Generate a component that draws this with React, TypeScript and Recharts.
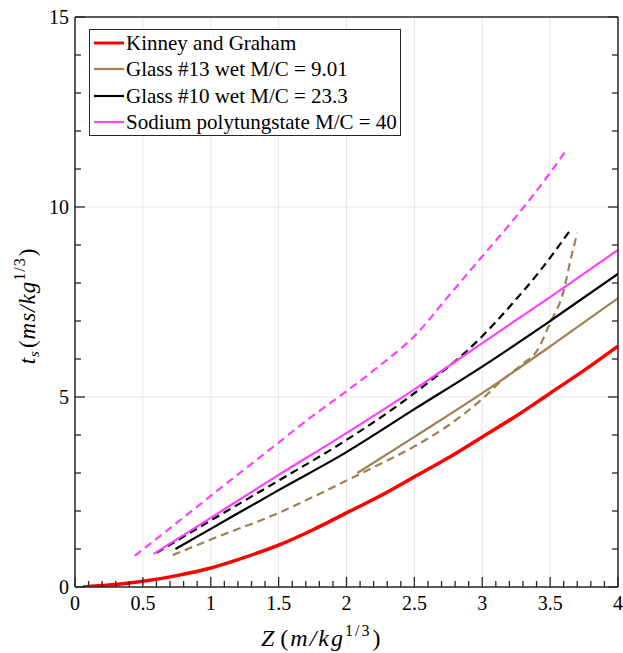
import { LineChart, Line, XAxis, YAxis, ReferenceLine, Legend } from 'recharts';

// Z (m/kg^1/3) vs t_s (ms/kg^1/3).
const kinneyZ = [0.06, 0.25, 0.5, 0.75, 1, 1.25, 1.5, 1.75, 2, 2.25, 2.5, 2.75, 3, 3.25, 3.5, 3.75, 4];
const kinneyT = [0, 0.05, 0.15, 0.3, 0.5, 0.78, 1.1, 1.5, 1.95, 2.4, 2.9, 3.4, 3.95, 4.5, 5.1, 5.7, 6.34];

const glass13Z = [2.08, 2.5, 3, 3.5, 4];
const glass13T = [3.0, 3.95, 5.1, 6.33, 7.6];
const glass13DashZ = [0.72, 1, 1.5, 1.8, 2, 2.2, 2.5, 2.75, 3, 3.15, 3.3, 3.4, 3.5, 3.6, 3.65, 3.7];
const glass13DashT = [0.84, 1.25, 1.95, 2.45, 2.8, 3.15, 3.7, 4.25, 4.95, 5.45, 5.88, 6.2, 6.95, 7.8, 8.6, 9.32];

const glass10Z = [0.74, 1, 1.5, 2, 2.5, 3, 3.5, 4];
const glass10T = [1.0, 1.53, 2.55, 3.55, 4.68, 5.8, 7.0, 8.24];
const glass10DashZ = [0.6, 1, 1.5, 2, 2.5, 3, 3.2, 3.43, 3.66];
const glass10DashT = [0.9, 1.75, 2.8, 3.87, 5.1, 6.6, 7.37, 8.34, 9.45];

const sodiumZ = [0.58, 1, 1.5, 2, 2.5, 3, 3.5, 4];
const sodiumT = [0.87, 1.82, 2.95, 4.05, 5.2, 6.42, 7.63, 8.87];
const sodiumDashZ = [0.44, 0.75, 1, 1.25, 1.5, 1.75, 2, 2.25, 2.5, 2.75, 3, 3.25, 3.5, 3.61];
const sodiumDashT = [0.82, 1.69, 2.4, 3.1, 3.8, 4.5, 5.15, 5.84, 6.6, 7.65, 8.7, 9.75, 10.9, 11.45];

const legendLabels = [
  'Kinney and Graham',
  'Glass #13 wet M/C = 9.01',
  'Glass #10 wet M/C = 23.3',
  'Sodium polytungstate M/C = 40',
];

const xTicks = [
  0, 0.1, 0.2, 0.3, 0.4, 0.5, 0.6, 0.7, 0.8, 0.9,
  1, 1.1, 1.2, 1.3, 1.4, 1.5, 1.6, 1.7, 1.8, 1.9,
  2, 2.1, 2.2, 2.3, 2.4, 2.5, 2.6, 2.7, 2.8, 2.9,
  3, 3.1, 3.2, 3.3, 3.4, 3.5, 3.6, 3.7, 3.8, 3.9, 4,
];
const xMajor = [0, 0.5, 1, 1.5, 2, 2.5, 3, 3.5, 4];
const yTicks = [0, 1, 2, 3, 4, 5, 6, 7, 8, 9, 10, 11, 12, 13, 14, 15];
const yMajor = [0, 5, 10, 15];

const RED = '#ff0000';
const BROWN = '#9e8150';
const BLACK = '#000000';
const MAGENTA = '#ff40ff';
const legendColors = [RED, BROWN, BLACK, MAGENTA];

const FONT = '"Liberation Serif", "Times New Roman", serif';
const AXIS = '#262626';

const pts = (z: number[], t: number[]) => z.map((v, i) => ({ z: v, t: t[i] }));

const isMajor = (v: number, list: number[]) => list.some((m) => Math.abs(m - v) < 1e-6);

// inward tick marks, MATLAB style: long at labelled values, short otherwise
const renderBottomTick = (props: any) => {
  const { x, y, payload } = props;
  const major = isMajor(payload.value, xMajor);
  const len = major ? 10 : 6;
  return (
    <g key={`b${payload.value}`}>
      <path d={`M${x},${y}L${x},${y - len}`} stroke={AXIS} strokeWidth={1.3} fill="none" />
      {major && (
        <text x={x} y={y + 23} textAnchor="middle" fontFamily={FONT} fontSize={20} fill="#000">
          {String(payload.value)}
        </text>
      )}
    </g>
  );
};

const renderTopTick = (props: any) => {
  const { x, y, payload } = props;
  const len = isMajor(payload.value, xMajor) ? 10 : 6;
  return <path key={`t${payload.value}`} d={`M${x},${y}L${x},${y + len}`} stroke={AXIS} strokeWidth={1.3} fill="none" />;
};

const renderLeftTick = (props: any) => {
  const { x, y, payload } = props;
  const major = isMajor(payload.value, yMajor);
  const len = major ? 10 : 6;
  return (
    <g key={`l${payload.value}`}>
      <path d={`M${x},${y}L${x + len},${y}`} stroke={AXIS} strokeWidth={1.3} fill="none" />
      {major && (
        <text x={x - 6} y={y + 7} textAnchor="end" fontFamily={FONT} fontSize={20} fill="#000">
          {String(payload.value)}
        </text>
      )}
    </g>
  );
};

const renderRightTick = (props: any) => {
  const { x, y, payload } = props;
  const len = isMajor(payload.value, yMajor) ? 10 : 6;
  return <path key={`r${payload.value}`} d={`M${x},${y}L${x - len},${y}`} stroke={AXIS} strokeWidth={1.3} fill="none" />;
};

function XLabel(props: any) {
  const { viewBox } = props;
  const sx = viewBox.x + 186;
  const sy = viewBox.y + 59;
  return (
    <text x={sx} y={sy} textAnchor="start" fontFamily={FONT} fontSize={24} letterSpacing={2} fill="#000">
      <tspan fontStyle="italic">Z</tspan>
      <tspan dx={4}>(</tspan>
      <tspan fontStyle="italic">m/kg</tspan>
      <tspan fontSize={16} dy={-10}>1/3</tspan>
      <tspan dy={10} dx={1}>)</tspan>
    </text>
  );
}

function YLabel(props: any) {
  const { viewBox } = props;
  const cx = viewBox.x - 39;
  const cy = viewBox.y + viewBox.height / 2 + 4;
  return (
    <text
      x={cx}
      y={cy}
      transform={`rotate(-90 ${cx} ${cy})`}
      textAnchor="middle"
      fontFamily={FONT}
      fontSize={23}
      letterSpacing={1}
      fill="#000"
    >
      <tspan fontStyle="italic">t</tspan>
      <tspan fontStyle="italic" fontSize={15} dy={4}>s</tspan>
      <tspan dy={-4} dx={2}>(</tspan>
      <tspan fontStyle="italic">ms/kg</tspan>
      <tspan fontSize={16} dy={-10}>1/3</tspan>
      <tspan dy={10} dx={1}>)</tspan>
    </text>
  );
}

function LegendBox() {
  return (
    <div
      style={{
        border: `1px solid ${AXIS}`,
        background: '#fff',
        padding: '0 3px 0 3px',
        fontFamily: FONT,
        fontSize: 21,
        lineHeight: '26.3px',
        whiteSpace: 'nowrap',
      }}
    >
      {legendLabels.map((label, i) => (
        <div key={label} style={{ display: 'flex', alignItems: 'center' }}>
          <svg width={33} height={10} style={{ flex: 'none' }}>
            <line x1={1} x2={31} y1={5} y2={5} stroke={legendColors[i]} strokeWidth={i === 0 ? 3 : 2.2} />
          </svg>
          <span>{label}</span>
        </div>
      ))}
    </div>
  );
}

export default function App() {
  const dash = '8 5';
  return (
    <div style={{ position: 'absolute', left: 0, top: 0, background: '#fff' }}>
      <LineChart width={623} height={653} margin={{ top: 16, right: 4, bottom: 65, left: 74 }}>
        {xMajor.slice(1, -1).map((v) => (
          <ReferenceLine key={`gx${v}`} x={v} stroke="#e6e6e6" strokeWidth={1} />
        ))}
        {[5, 10].map((v) => (
          <ReferenceLine key={`gy${v}`} y={v} stroke="#e6e6e6" strokeWidth={1} />
        ))}
        <XAxis
          dataKey="z"
          type="number"
          domain={[0, 4]}
          ticks={xTicks}
          interval={0}
          height={1}
          tickSize={0}
          tickMargin={0}
          tickLine={false}
          tick={renderBottomTick}
          axisLine={{ stroke: AXIS, strokeWidth: 1.5 }}
          label={<XLabel />}
          allowDataOverflow
        />
        <XAxis
          xAxisId="top"
          orientation="top"
          type="number"
          domain={[0, 4]}
          ticks={xTicks}
          interval={0}
          height={1}
          tickSize={0}
          tickMargin={0}
          tickLine={false}
          tick={renderTopTick}
          axisLine={{ stroke: AXIS, strokeWidth: 1.5 }}
          allowDataOverflow
        />
        <YAxis
          type="number"
          domain={[0, 15]}
          ticks={yTicks}
          interval={0}
          width={1}
          tickSize={0}
          tickMargin={0}
          tickLine={false}
          tick={renderLeftTick}
          axisLine={{ stroke: AXIS, strokeWidth: 1.5 }}
          label={<YLabel />}
          allowDataOverflow
        />
        <YAxis
          yAxisId="right"
          orientation="right"
          type="number"
          domain={[0, 15]}
          ticks={yTicks}
          interval={0}
          width={1}
          tickSize={0}
          tickMargin={0}
          tickLine={false}
          tick={renderRightTick}
          axisLine={{ stroke: AXIS, strokeWidth: 1.5 }}
          allowDataOverflow
        />
        <Legend
          layout="vertical"
          align="center"
          verticalAlign="middle"
          content={<LegendBox />}
          wrapperStyle={{ left: 89, top: 29, width: 'auto', height: 'auto' }}
        />

        <Line data={pts(sodiumDashZ, sodiumDashT)} dataKey="t" type="monotone" stroke={MAGENTA} strokeWidth={2.2} strokeDasharray={dash} dot={false} legendType="none" isAnimationActive={false} />
        <Line data={pts(glass10DashZ, glass10DashT)} dataKey="t" type="monotone" stroke={BLACK} strokeWidth={2.2} strokeDasharray={dash} dot={false} legendType="none" isAnimationActive={false} />
        <Line data={pts(glass13DashZ, glass13DashT)} dataKey="t" type="monotone" stroke={BROWN} strokeWidth={2.2} strokeDasharray={dash} dot={false} legendType="none" isAnimationActive={false} />
        <Line data={pts(kinneyZ, kinneyT)} dataKey="t" name={legendLabels[0]} type="monotone" stroke={RED} strokeWidth={3.5} dot={false} isAnimationActive={false} />
        <Line data={pts(glass13Z, glass13T)} dataKey="t" name={legendLabels[1]} type="monotone" stroke={BROWN} strokeWidth={2.2} dot={false} isAnimationActive={false} />
        <Line data={pts(glass10Z, glass10T)} dataKey="t" name={legendLabels[2]} type="monotone" stroke={BLACK} strokeWidth={2.2} dot={false} isAnimationActive={false} />
        <Line data={pts(sodiumZ, sodiumT)} dataKey="t" name={legendLabels[3]} type="monotone" stroke={MAGENTA} strokeWidth={2.2} dot={false} isAnimationActive={false} />
      </LineChart>
    </div>
  );
}
